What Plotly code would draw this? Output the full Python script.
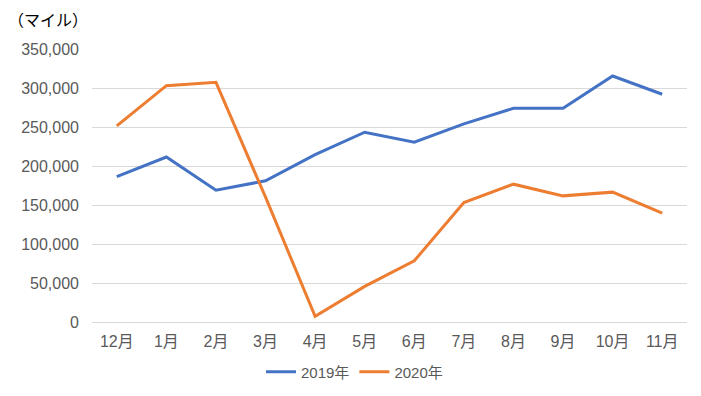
import plotly.graph_objects as go

months = ["12月", "1月", "2月", "3月", "4月", "5月", "6月", "7月", "8月", "9月", "10月", "11月"]
y2019 = [186500, 211500, 169000, 181000, 214500, 243300, 230500, 254000, 274000, 274000, 315400, 292000]
y2020 = [251400, 303000, 307300, 160000, 7200, 45600, 78500, 153200, 176700, 161700, 166500, 139600]
tick_vals = [0, 50000, 100000, 150000, 200000, 250000, 300000, 350000]
tick_text = ["0", "50,000", "100,000", "150,000", "200,000", "250,000", "300,000", "350,000"]

FONT = "Liberation Sans, Arial, Noto Sans CJK JP, sans-serif"

fig = go.Figure()
fig.add_trace(go.Scatter(x=months, y=y2019, mode="lines", name="2019年",
                         line=dict(color="#4472C4", width=3)))
fig.add_trace(go.Scatter(x=months, y=y2020, mode="lines", name="2020年",
                         line=dict(color="#ED7D31", width=3)))

fig.update_layout(
    width=693, height=388,
    margin=dict(l=84, r=14, t=41, b=74, autoexpand=False),
    paper_bgcolor="white", plot_bgcolor="white",
    font=dict(family=FONT, size=16, color="#595959"),
    showlegend=True,
    legend=dict(orientation="h", xref="container", yref="container",
                x=0.5, xanchor="center", y=0.062, yanchor="middle",
                font=dict(size=15, color="#595959"), itemwidth=30,
                tracegroupgap=0),
    title=dict(text="（マイル）", xref="container", yref="container",
               x=0.0, xanchor="left", y=0.967, yanchor="middle",
               font=dict(family=FONT, size=16, color="#000000")),
)
fig.update_xaxes(type="category", range=[-0.5, 11.5], showgrid=False,
                 showline=False, zeroline=False, ticks="", ticklabelstandoff=8,
                 tickfont=dict(size=16))
fig.update_yaxes(range=[0, 350000], tickvals=tick_vals, ticktext=tick_text,
                 showgrid=True, gridcolor="#D9D9D9", gridwidth=1,
                 zeroline=True, zerolinecolor="#D9D9D9", zerolinewidth=1,
                 showline=False, ticks="", ticklabelstandoff=12)

fig.write_html("out.html")
